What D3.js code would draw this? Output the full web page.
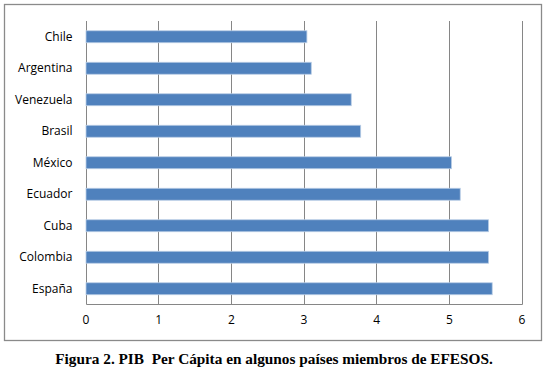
<!DOCTYPE html>
<head>
  <meta charset="UTF-8">
  <title>PIB per cápita</title>
  <style>
  body, html, svg{
    padding: 0;
    margin: 0;
  }
  body{
    background: #fff;
  }
  svg{ display: block; }
  </style>
</head>
<body>
  <script src="https://cdn.jsdelivr.net/npm/d3@7"></script>
  <script type="text/javascript">
  // datos
  var paises = ['Chile', 'Argentina', 'Venezuela', 'Brasil', 'México', 'Ecuador', 'Cuba', 'Colombia', 'España'];
  var pib = [3.04, 3.10, 3.65, 3.78, 5.03, 5.15, 5.54, 5.54, 5.59];
  var ticks = [0, 1, 2, 3, 4, 5, 6];
  var caption = 'Figura 2. PIB\u00a0 Per Cápita en algunos países miembros de EFESOS.';

  var width = 546, height = 377;
  var plot = {left: 85.5, right: 521.5, top: 21, bottom: 304.5};

  var svg = d3.select('body').append('svg')
    .attr('width', width)
    .attr('height', height);

  // marco exterior
  svg.append('rect')
    .attr('x', 4.5).attr('y', 4.5)
    .attr('width', 537).attr('height', 336)
    .attr('fill', '#fff')
    .attr('stroke', '#8a8a8a')
    .attr('stroke-width', 1.3);

  var x = d3.scaleLinear().domain([0, 6]).range([plot.left, plot.right]);
  var y = d3.scaleBand().domain(paises).range([plot.top, plot.bottom]).paddingInner(0.62).paddingOuter(0.31);

  // rejilla vertical
  svg.selectAll('line.grid')
    .data(ticks)
    .enter()
    .append('line')
    .attr('class', 'grid')
    .attr('x1', function(d) { return Math.round(x(d)) + 0.5; })
    .attr('x2', function(d) { return Math.round(x(d)) + 0.5; })
    .attr('y1', plot.top)
    .attr('y2', plot.bottom)
    .attr('stroke', '#868686')
    .attr('stroke-width', 1);

  // linea inferior
  svg.append('line')
    .attr('x1', Math.round(plot.left) + 0.5).attr('x2', Math.round(plot.right) + 0.5)
    .attr('y1', plot.bottom).attr('y2', plot.bottom)
    .attr('stroke', '#868686');

  // barras
  svg.selectAll('rect.bar')
    .data(paises)
    .enter()
    .append('rect')
    .attr('class', 'bar')
    .attr('x', x(0) + 0.5)
    .attr('y', function(d) { return y(d); })
    .attr('width', function(d, i) { return x(pib[i]) - x(0); })
    .attr('height', y.bandwidth())
    .attr('fill', '#4f81bd')
    .attr('stroke', '#b9cde5')
    .attr('stroke-width', 0.8);

  // eje x
  var xAxis = svg.append('g')
    .attr('transform', 'translate(0,' + plot.bottom + ')')
    .call(d3.axisBottom(x).tickValues(ticks).tickSize(0).tickPadding(11).tickFormat(d3.format('d')));
  xAxis.select('.domain').remove();
  xAxis.selectAll('text')
    .attr('font-family', 'Open Sans, sans-serif')
    .attr('font-size', 12)
    .attr('fill', '#000');

  // eje y
  var yAxis = svg.append('g')
    .attr('transform', 'translate(' + (plot.left - 13) + ',0)')
    .call(d3.axisLeft(y).tickSize(0).tickPadding(0));
  yAxis.select('.domain').remove();
  yAxis.selectAll('text')
    .attr('font-family', 'Open Sans, sans-serif')
    .attr('font-size', 12)
    .attr('fill', '#000');

  // pie de figura
  svg.append('text')
    .attr('x', 274)
    .attr('y', 364)
    .attr('text-anchor', 'middle')
    .attr('font-family', 'Liberation Serif, Times New Roman, serif')
    .attr('font-weight', 'bold')
    .attr('font-size', 15.3)
    .text(caption);
  </script>
</body>
</html>
